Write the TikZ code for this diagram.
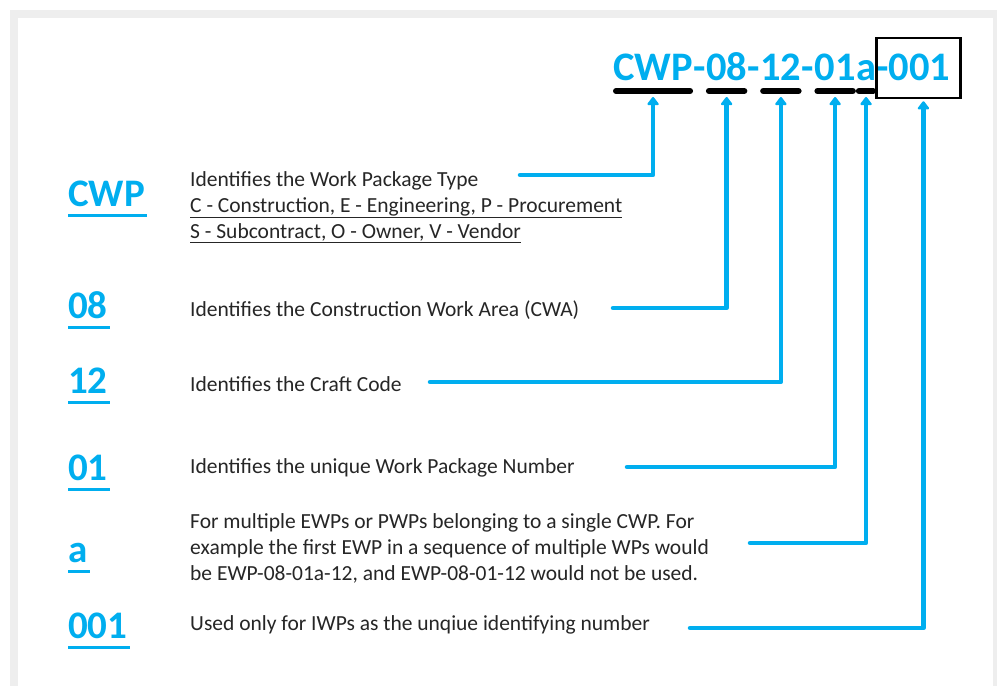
\documentclass[tikz,border=0pt]{standalone}
\usepackage{fontspec}
\setmainfont{Carlito}
\usepackage{xcolor}
\usetikzlibrary{arrows.meta,fit}
\definecolor{codeblue}{HTML}{00AEEF}
\definecolor{desctext}{HTML}{262626}
\definecolor{framegrey}{HTML}{EEEEEE}

\begin{document}
\begin{tikzpicture}[x=1pt,y=-1pt,
		code/.style={font=\fontsize{39}{46}\selectfont\bfseries, text=codeblue, inner sep=0pt, anchor=base west},
		title/.style={code, font=\fontsize{40.5}{46}\selectfont\bfseries},
		desc/.style={font=\fontsize{21.5}{26}\selectfont, text=desctext, inner sep=0pt, anchor=base west, align=left},
		bar/.style={line width=6pt, line cap=round},
		uline/.style={codeblue, line width=3pt},
		link/.style={codeblue, line width=4.5pt, line join=round, line cap=round, -{Triangle[width=13pt,length=9pt,round]}}]
	\useasboundingbox (0,0) rectangle (997,686);
	\fill[white] (0,0) rectangle (997,686);
	\fill[framegrey] (10,10) rectangle (997,686);
	\fill[white] (18,18) rectangle (993,686);

	% the number as it is written
	\node[title] (tCWP) at (613,80) {CWP};
	\node[title] (h1) at (tCWP.base east) {-};
	\node[title] (t08) at (h1.base east) {08};
	\node[title] (h2) at (t08.base east) {-};
	\node[title] (t12) at (h2.base east) {12};
	\node[title] (h3) at (t12.base east) {-};
	\node[title] (t01) at (h3.base east) {01};
	\node[title] (ta) at (t01.base east) {a};
	\node[title] (t001) at (ta.base east) {-001};
	\foreach \n in {CWP,08,12,01,a}
		\draw[bar] ([yshift=-11pt,xshift=3pt]t\n.base west) -- ([yshift=-11pt,xshift=-3pt]t\n.base east);
	\node[draw, line width=2.5pt, inner sep=0pt, fit={([yshift=-18pt]t001.base west) ([xshift=10pt,yshift=42pt]t001.base east)}] (box) {};

	% the parts on the left
	\node[code] (lCWP) at (68,206) {CWP};
	\node[code] (l08) at (68,318) {08};
	\node[code] (l12) at (68,393) {12};
	\node[code] (l01) at (68,480) {01};
	\node[code] (la) at (68,562) {a};
	\node[code] (l001) at (68,638) {001};
	\foreach \n in {CWP,08,12,01,a,001}
		\draw[uline] ([yshift=-9pt]l\n.base west) -- ([yshift=-9pt,xshift=2pt]l\n.base east);

	% base of a node with several lines is its last line
	\node[desc] (dCWP) at (190,238) {Identifies the Work Package Type\\\underline{C - Construction, E - Engineering, P - Procurement}\\\underline{S - Subcontract, O - Owner, V - Vendor}};
	\node[desc] (d08) at (190,316) {Identifies the Construction Work Area (CWA)};
	\node[desc] (d12) at (190,391) {Identifies the Craft Code};
	\node[desc] (d01) at (190,473) {Identifies the unique Work Package Number};
	\node[desc] (da) at (190,580) {For multiple EWPs or PWPs belonging to a single CWP. For\\example the first EWP in a sequence of multiple WPs would\\be EWP-08-01a-12, and EWP-08-01-12 would not be used.};
	\node[desc] (d001) at (190,630) {Used only for IWPs as the unqiue identifying number};

	% leader lines
	\coordinate (sCWP) at (520,175);
	\coordinate (s08) at (613,308);
	\coordinate (s12) at (430,382);
	\coordinate (s01) at (627,467);
	\coordinate (sa) at (750,543);
	\coordinate (s001) at (690,628);
	\draw[link] (sCWP) -| ([yshift=-17pt]tCWP.base);
	\draw[link] (s08) -| ([yshift=-17pt]t08.base);
	\draw[link] (s12) -| ([yshift=-17pt]t12.base);
	\draw[link] (s01) -| ([yshift=-17pt]t01.base);
	\draw[link] (sa) -| ([yshift=-17pt]ta.base);
	\draw[link] (s001) -| ([xshift=5pt,yshift=-2pt]box.south);
\end{tikzpicture}
\end{document}
